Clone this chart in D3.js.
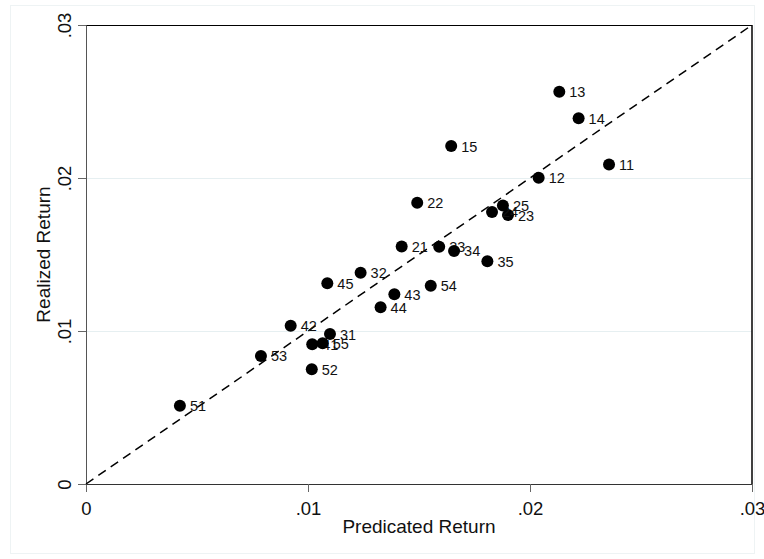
<!DOCTYPE html>
<html><head><meta charset="utf-8">
<script src="https://cdn.jsdelivr.net/npm/d3@7"></script>
<style>body{margin:0;background:#fff}svg{display:block;font-family:"Liberation Sans",Arial,sans-serif}</style>
</head><body>
<script>
const labels = ["11","12","13","14","15","21","22","23","24","25","31","32","33","34","35","41","42","43","44","45","51","52","53","54","55"];
const predicted = [0.02356,0.02039,0.02132,0.02219,0.01645,0.01422,0.01492,0.01901,0.01829,0.01878,0.01099,0.01237,0.01591,0.01658,0.01808,0.01019,0.00922,0.01389,0.01327,0.01087,0.00423,0.01017,0.00788,0.01553,0.01066];
const realized  = [0.02088,0.02002,0.02564,0.02390,0.02209,0.01552,0.01839,0.01758,0.01778,0.01820,0.00980,0.01381,0.01551,0.01523,0.01456,0.00913,0.01035,0.01240,0.01155,0.01312,0.00512,0.00750,0.00837,0.01296,0.00920];
const xTicks = [0, 0.01, 0.02, 0.03];
const yTicks = [0, 0.01, 0.02, 0.03];
const tickLabels = ["0", ".01", ".02", ".03"];
const gridValues = [0.01, 0.02];

const W = 764, H = 559;
const L = 86, R = 752, T = 25, B = 484;
const svg = d3.select("body").append("svg").attr("width", W).attr("height", H);

svg.append("rect").attr("x", 10.5).attr("y", 5.5).attr("width", 744).attr("height", 548)
  .attr("fill", "#fff").attr("stroke", "#eef3f4");

const x = d3.scaleLinear().domain([0, 0.03]).range([L, R]);
const y = d3.scaleLinear().domain([0, 0.03]).range([B, T]);

svg.append("g").selectAll("line").data(gridValues).join("line")
  .attr("x1", L).attr("x2", R).attr("y1", d => y(d) + 0.5).attr("y2", d => y(d) + 0.5)
  .attr("stroke", "#e6eff1").attr("stroke-width", 1.2);

svg.append("line").attr("x1", L).attr("x2", R).attr("y1", T + 0.5).attr("y2", T + 0.5).attr("stroke", "#000");
svg.append("line").attr("x1", R).attr("x2", R).attr("y1", T).attr("y2", B).attr("stroke", "#000").attr("stroke-width", 1.5);

const xAxis = d3.axisBottom(x).tickValues(xTicks).tickFormat(d => tickLabels[xTicks.indexOf(d)]).tickSize(8).tickPadding(6);
const gx = svg.append("g").attr("transform", `translate(0,${B})`).call(xAxis);
gx.select(".domain").attr("stroke", "#333");
gx.selectAll(".tick line").attr("stroke", "#666");
gx.selectAll("text").attr("font-size", 18.5).attr("fill", "#111").attr("font-family", "Liberation Sans, Arial, sans-serif")
  .attr("dy", null).attr("y", 31);

const yAxis = d3.axisLeft(y).tickValues(yTicks).tickFormat(d => tickLabels[yTicks.indexOf(d)]).tickSize(8);
const gy = svg.append("g").attr("transform", `translate(${L},0)`).call(yAxis);
gy.select(".domain").attr("stroke", "#555");
gy.selectAll(".tick line").attr("stroke", "#666");
gy.selectAll("text").attr("font-size", 18.5).attr("fill", "#111").attr("font-family", "Liberation Sans, Arial, sans-serif")
  .attr("x", null).attr("dy", null).attr("text-anchor", "middle")
  .attr("transform", "translate(-15,0) rotate(-90)");

svg.append("line").attr("x1", x(0)).attr("y1", y(0)).attr("x2", x(0.03)).attr("y2", y(0.03))
  .attr("stroke", "#000").attr("stroke-width", 1.5).attr("stroke-dasharray", "9,6");

const data = labels.map((l, i) => ({l, px: predicted[i], ry: realized[i]}));
const pts = svg.append("g").selectAll("g").data(data).join("g");
pts.append("circle").attr("cx", d => x(d.px)).attr("cy", d => y(d.ry)).attr("r", 6).attr("fill", "#000");
pts.append("text").attr("x", d => x(d.px) + 10).attr("y", d => y(d.ry) + 5.5)
  .attr("font-size", 14.5).attr("fill", "#111").text(d => d.l);

svg.append("text").attr("x", (L + R) / 2).attr("y", 533).attr("text-anchor", "middle")
  .attr("font-size", 19).attr("fill", "#111").text("Predicated Return");
svg.append("text").attr("transform", `translate(50,${(T + B) / 2}) rotate(-90)`).attr("text-anchor", "middle")
  .attr("font-size", 19).attr("fill", "#111").text("Realized Return");
</script>
</body></html>
